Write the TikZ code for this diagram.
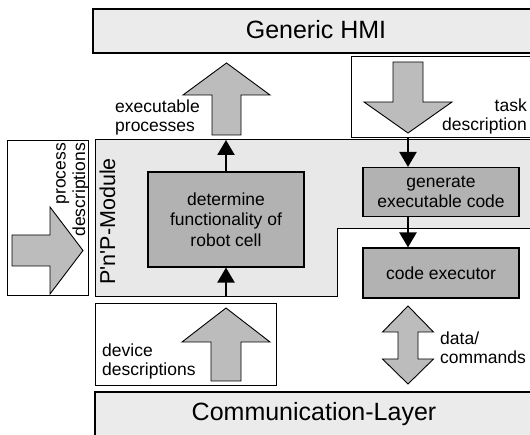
\documentclass[tikz,border=0pt]{standalone}
\usepackage{fontspec}
\setmainfont{Liberation Sans}
\usetikzlibrary{arrows.meta}

\definecolor{layerfill}{HTML}{EBEBEB}
\definecolor{modulefill}{HTML}{E8E8E8}
\definecolor{stepfill}{HTML}{B2B2B2}
\definecolor{arrowfill}{HTML}{BCBCBC}

\begin{document}
\begin{tikzpicture}[x=1pt, y=-1pt,
  layerbox/.style={draw=black, line width=1.1pt, fill=layerfill},
  modulebox/.style={draw=black, line width=1pt, fill=modulefill},
  framebox/.style={draw=black, line width=1pt, fill=white},
  stepbox/.style={draw=black, line width=1.1pt, fill=stepfill, align=center,
    inner sep=0pt, font=\fontsize{17.5}{20.5}\selectfont},
  blockarrow/.style={draw=black, line width=0.9pt, fill=arrowfill, line join=miter},
  flow/.style={line width=2.2pt, -{Triangle[length=15pt,width=17pt]}},
  lbl/.style={inner sep=0pt, font=\fontsize{17.5}{19.5}\selectfont},
  biglbl/.style={inner sep=0pt, font=\fontsize{25}{30}\selectfont},
]
\useasboundingbox (0,0) rectangle (530,435);
\clip (0,0) rectangle (530,435);

% P'n'P module area (L-shaped)
\path[modulebox] (95,140) -- (545,140) -- (545,229) -- (337,229)
  -- (337,297) -- (95,297) -- cycle;

% layers
\path[layerbox] (93,9) rectangle (545,53);
\node[biglbl, anchor=base] (hmi) at (316,39) {Generic HMI};
\path[layerbox] (95,392) rectangle (545,450);
\node[biglbl, anchor=base] (comm) at (314,420) {Communication-Layer};

% input frames
\path[framebox] (351.5,57) rectangle (545,138);
\path[framebox] (7,141) rectangle (88,296);
\path[framebox] (95,304) rectangle (276,386);

% processing steps
\node[stepbox, minimum width=156pt, minimum height=95pt] (determine) at (226,219.5)
  {determine\\functionality of\\robot cell};
\node[stepbox, minimum width=156pt, minimum height=49pt] (generate) at (441,192)
  {generate\\executable code};
\node[stepbox, minimum width=156pt, minimum height=50pt] (executor) at (441,273)
  {code executor};

% block arrows
\path[blockarrow] (212,135) -- (212,95) -- (183,95) -- (226.5,63) -- (270,95)
  -- (241,95) -- (241,135) -- cycle;
\path[blockarrow] (393,62) -- (423,62) -- (423,102) -- (452,102) -- (408,133)
  -- (364,102) -- (393,102) -- cycle;
\path[blockarrow] (12,235) -- (50,235) -- (50,207) -- (83,250.5) -- (50,294)
  -- (50,266) -- (12,266) -- cycle;
\path[blockarrow] (211,381) -- (211,342) -- (182,342) -- (226,308) -- (270,342)
  -- (241,342) -- (241,381) -- cycle;
\path[blockarrow] (408,306) -- (433.5,332) -- (418,332) -- (418,359)
  -- (433.5,359) -- (408,384) -- (382.5,359) -- (398,359) -- (398,332)
  -- (382.5,332) -- cycle;

% labels (base anchor = baseline of the last line)
\node[lbl, anchor=base west, align=left] (execlbl) at (115,132) {executable\\processes};
\node[lbl, anchor=base east, align=right] (tasklbl) at (527,131) {task\\description};
\node[lbl, anchor=base west, align=left] (devlbl) at (102,376) {device\\descriptions};
\node[lbl, anchor=base west, align=left] (datalbl) at (440,364) {data/\\commands};
\node[lbl, rotate=90, anchor=base east, align=right] (proclbl) at (85,143)
  {process\\descriptions};
\node[inner sep=0pt, font=\fontsize{21.5}{26}\selectfont, rotate=90, anchor=base]
  (modlbl) at (115,221.5) {P\textquotesingle n\textquotesingle P-Module};

% control flow
\coordinate (modtop) at (226,140);
\coordinate (modbot) at (226,297);
\coordinate (taskout) at (408,138);
\draw[flow] (determine.north) -- (modtop);
\draw[flow] (modbot) -- (determine.south);
\draw[flow] (taskout) -- (generate.north -| taskout);
\draw[flow] (generate.south -| taskout) -- (executor.north -| taskout);
\end{tikzpicture}
\end{document}
